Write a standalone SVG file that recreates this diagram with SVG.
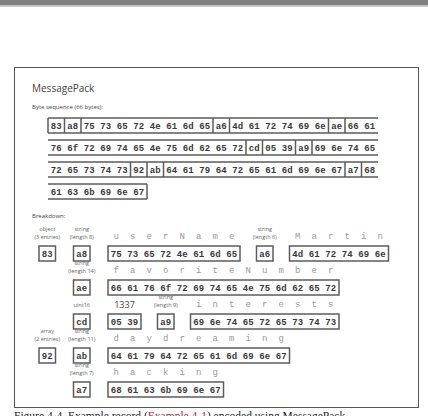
<svg xmlns="http://www.w3.org/2000/svg" width="428" height="416" viewBox="0 0 428 416">
<style>
.hex{font-family:"Liberation Mono",monospace;font-size:9px;font-weight:bold;fill:#3a3a3a;letter-spacing:0.1px}
.chr{font-family:"Liberation Mono",monospace;font-size:9px;fill:#9a9a9a;letter-spacing:11.1px}
.lbl{font-family:"Open Sans",sans-serif;font-size:5.5px;fill:#666;text-anchor:middle}
.box{fill:none;stroke:#5c5c5c;stroke-width:1.5}
.row{fill:none;stroke:#5c5c5c;stroke-width:1.5}
.head{font-family:"Open Sans",sans-serif;fill:#444}
</style>
<rect x="0" y="0" width="428" height="5.5" fill="#808080"/>
<rect x="0" y="5.5" width="428" height="1.5" fill="#c8c8c8"/>
<rect x="14.5" y="67.5" width="404" height="340" fill="#fff" stroke="#555" stroke-width="1"/>
<text class="head" x="32" y="92" font-size="10">MessagePack</text>
<text class="head" x="32" y="108.5" font-size="6">Byte sequence (66 bytes):</text>
<g id="byte-sequence">
<path class="row" d="M48 118H378M48 133H378M48 118V133M64.5 118V133M81 118V133M213 118V133M229.5 118V133M328.5 118V133M345 118V133"/>
<text class="hex" x="50.8" y="128.5">83 a8 75 73 65 72 4e 61 6d 65 a6 4d 61 72 74 69 6e ae 66 61</text>
<path class="row" d="M48 140H378M48 155H378M246 140V155M262.5 140V155M295.5 140V155M312 140V155"/>
<text class="hex" x="50.8" y="150.5">76 6f 72 69 74 65 4e 75 6d 62 65 72 cd 05 39 a9 69 6e 74 65</text>
<path class="row" d="M48 162H378M48 177H378M130.5 162V177M147 162V177M163.5 162V177M345 162V177M361.5 162V177"/>
<text class="hex" x="50.8" y="172.5">72 65 73 74 73 92 ab 64 61 79 64 72 65 61 6d 69 6e 67 a7 68</text>
<path class="row" d="M48 184H147M48 199H147M147 184V199"/>
<text class="hex" x="50.8" y="194.5">61 63 6b 69 6e 67</text>
</g>
<text class="head" x="32" y="218" font-size="6">Breakdown:</text>
<g id="obj-83">
<text class="lbl" x="47.25" y="231">object</text>
<text class="lbl" x="47.25" y="239">(3 entries)</text>
<rect class="box" x="39" y="246" width="16.5" height="15"/>
<text class="hex" x="41.8" y="256.5">83</text>
</g>
<g id="str-a8">
<text class="lbl" x="81.75" y="231">string</text>
<text class="lbl" x="81.75" y="239">(length 8)</text>
<rect class="box" x="73.5" y="246" width="16.5" height="15"/>
<text class="hex" x="76.3" y="256.5">a8</text>
</g>
<g id="userName">
<text class="chr" x="113.55" y="239">userName</text>
<rect class="box" x="108" y="246" width="132" height="15"/>
<text class="hex" x="110.8" y="256.5">75 73 65 72 4e 61 6d 65</text>
</g>
<g id="str-a6">
<text class="lbl" x="264.75" y="231">string</text>
<text class="lbl" x="264.75" y="239">(length 6)</text>
<rect class="box" x="256.5" y="246" width="16.5" height="15"/>
<text class="hex" x="259.3" y="256.5">a6</text>
</g>
<g id="Martin">
<text class="chr" x="295.05" y="239">Martin</text>
<rect class="box" x="289.5" y="246" width="99" height="15"/>
<text class="hex" x="292.3" y="256.5">4d 61 72 74 69 6e</text>
</g>
<g id="str-ae">
<text class="lbl" x="81.75" y="265">string</text>
<text class="lbl" x="81.75" y="273">(length 14)</text>
<rect class="box" x="73.5" y="280" width="16.5" height="15"/>
<text class="hex" x="76.3" y="290.5">ae</text>
</g>
<g id="favoriteNumber">
<text class="chr" x="113.55" y="273">favoriteNumber</text>
<rect class="box" x="108" y="280" width="231" height="15"/>
<text class="hex" x="110.8" y="290.5">66 61 76 6f 72 69 74 65 4e 75 6d 62 65 72</text>
</g>
<g id="uint16-cd">
<text class="lbl" x="81.75" y="307">uint16</text>
<rect class="box" x="73.5" y="314" width="16.5" height="15"/>
<text class="hex" x="76.3" y="324.5">cd</text>
</g>
<g id="num-1337">
<text class="head" x="124.5" y="307.5" font-size="9" text-anchor="middle">1337</text>
<rect class="box" x="108" y="314" width="33" height="15"/>
<text class="hex" x="110.8" y="324.5">05 39</text>
</g>
<g id="str-a9">
<text class="lbl" x="165.75" y="299">string</text>
<text class="lbl" x="165.75" y="307">(length 9)</text>
<rect class="box" x="157.5" y="314" width="16.5" height="15"/>
<text class="hex" x="160.3" y="324.5">a9</text>
</g>
<g id="interests">
<text class="chr" x="196.05" y="307">interests</text>
<rect class="box" x="190.5" y="314" width="148.5" height="15"/>
<text class="hex" x="193.3" y="324.5">69 6e 74 65 72 65 73 74 73</text>
</g>
<g id="arr-92">
<text class="lbl" x="47.25" y="333">array</text>
<text class="lbl" x="47.25" y="341">(2 entries)</text>
<rect class="box" x="39" y="348" width="16.5" height="15"/>
<text class="hex" x="41.8" y="358.5">92</text>
</g>
<g id="str-ab">
<text class="lbl" x="81.75" y="333">string</text>
<text class="lbl" x="81.75" y="341">(length 11)</text>
<rect class="box" x="73.5" y="348" width="16.5" height="15"/>
<text class="hex" x="76.3" y="358.5">ab</text>
</g>
<g id="daydreaming">
<text class="chr" x="113.55" y="341">daydreaming</text>
<rect class="box" x="108" y="348" width="181.5" height="15"/>
<text class="hex" x="110.8" y="358.5">64 61 79 64 72 65 61 6d 69 6e 67</text>
</g>
<g id="str-a7">
<text class="lbl" x="81.75" y="367">string</text>
<text class="lbl" x="81.75" y="375">(length 7)</text>
<rect class="box" x="73.5" y="382" width="16.5" height="15"/>
<text class="hex" x="76.3" y="392.5">a7</text>
</g>
<g id="hacking">
<text class="chr" x="113.55" y="375">hacking</text>
<rect class="box" x="108" y="382" width="115.5" height="15"/>
<text class="hex" x="110.8" y="392.5">68 61 63 6b 69 6e 67</text>
</g>
<g id="connectors"/>
<text x="14" y="420" font-family="'Liberation Serif',serif" font-size="11.5" fill="#222">Figure 4-4. Example record (<tspan fill="#c0282d">Example 4-1</tspan>) encoded using MessagePack.</text>
</svg>
